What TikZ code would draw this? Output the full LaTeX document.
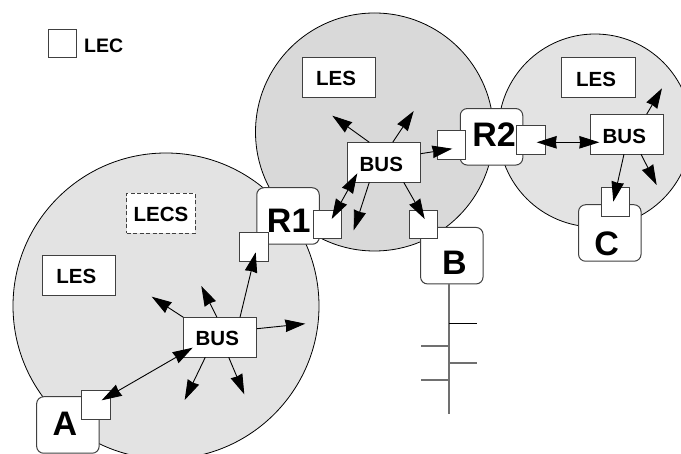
\documentclass[tikz,border=0pt]{standalone}
\usepackage{fontspec}
\setmainfont{Liberation Sans}
\usetikzlibrary{arrows.meta}
\definecolor{cellA}{HTML}{E3E3E3}
\definecolor{cellB}{HTML}{D9D9D9}
\definecolor{edge}{HTML}{404040}
\definecolor{lan}{HTML}{707070}
\tikzset{
  cellring/.style={draw=black,line width=0.8pt,circle,minimum size=#1,inner sep=0pt},
  plainbox/.style={draw=edge,line width=1pt,fill=white,inner sep=0pt,minimum width=73.5pt,minimum height=40pt},
  lecbox/.style={draw=edge,line width=1pt,fill=white,inner sep=0pt,minimum width=28.5pt,minimum height=28.5pt},
  hostbox/.style={draw=edge,line width=1pt,fill=white,rounded corners=7pt,inner sep=0pt,minimum width=62.5pt,minimum height=56.5pt},
  smalltxt/.style={font=\fontsize{20.5}{20.5}\selectfont\bfseries,inner sep=0pt,text=black},
  bigtxt/.style={font=\fontsize{34}{34}\selectfont\bfseries,inner sep=0pt,text=black},
  arr/.style={line width=0.9pt,black,-{Stealth[length=20pt,width=12.5pt,inset=0.8pt]}},
  darr/.style={line width=0.9pt,black,{Stealth[length=20pt,width=12.5pt,inset=0.8pt]}-{Stealth[length=20pt,width=12.5pt,inset=0.8pt]}},
  wire/.style={line width=1.6pt,lan}
}
\begin{document}
\begin{tikzpicture}[x=1pt,y=-1pt]
\clip (0,0) rectangle (681,454);
\fill[white] (0,0) rectangle (681,454);
% cells
\node[cellring=306pt,fill=cellA] (cellL) at (166,306) {};
\node[cellring=238pt,fill=cellB] (cellM) at (374.5,132) {};
\node[cellring=193pt,fill=cellA] (cellR) at (595,130.5) {};
% legend
\node[lecbox] (legend) at (62.5,43.5) {};
\node[smalltxt,font=\fontsize{19.5}{19.5}\selectfont\bfseries,anchor=west] (legendtext) at (84,45.5) {LEC};
% servers
\node[plainbox,dash pattern=on 4pt off 2.5pt,minimum width=68.5pt,label={[smalltxt,shift={(0.2,1)}]center:LECS}] (lecs) at (160.8,213.3) {};
\node[plainbox,label={[smalltxt,shift={(-2.7,1.4)}]center:LES}] (lesL) at (79,275.3) {};
\node[plainbox,label={[smalltxt,shift={(-2.8,0.8)}]center:LES}] (lesM) at (338.8,77.7) {};
\node[plainbox,label={[smalltxt,shift={(-2.5,1.3)}]center:LES}] (lesR) at (598.5,77.7) {};
% hosts and routers
\node[hostbox,label={[bigtxt,shift={(-2.9,-1)}]center:A}] (A) at (67.9,425) {};
\node[hostbox,label={[bigtxt,shift={(0.7,4.7)}]center:R1}] (R1) at (288,216) {};
\node[hostbox,label={[bigtxt,shift={(2.5,7.6)}]center:B}] (B) at (451.8,255.7) {};
\node[hostbox,label={[bigtxt,shift={(2.5,-1.8)}]center:R2}] (R2) at (491.5,136.8) {};
\node[hostbox,label={[bigtxt,shift={(-3.1,11)}]center:C}] (C) at (609.8,233) {};
% bus boxes
\node[plainbox,label={[smalltxt,shift={(-2.9,1.4)}]center:BUS}] (busL) at (220.2,337.3) {};
\node[plainbox,label={[smalltxt,shift={(-2.5,1.7)}]center:BUS}] (busM) at (383.8,162.3) {};
\node[plainbox,label={[smalltxt,shift={(-2.5,1.8)}]center:BUS}] (busR) at (626.8,134.2) {};
% LEC squares
\node[lecbox] (lecA) at (96,405.2) {};
\node[lecbox] (lecR1a) at (254,247) {};
\node[lecbox] (lecR1b) at (327.3,224.5) {};
\node[lecbox] (lecB) at (423.5,224.5) {};
\node[lecbox] (lecR2a) at (451.7,145.2) {};
\node[lecbox] (lecR2b) at (531,139.8) {};
\node[lecbox] (lecC) at (615.5,201.8) {};
% free arrow ends
\coordinate (tL1) at (151.7,296.7);
\coordinate (tL2) at (201.3,286);
\coordinate (tL3) at (305.3,323.7);
\coordinate (tL4) at (244.3,394.3);
\coordinate (tL5) at (184.7,400);
\coordinate (tM1) at (332.3,115.7);
\coordinate (tM2) at (413.7,111);
\coordinate (tM3) at (353.7,230.3);
\coordinate (tR1) at (662,88.3);
\coordinate (tR2) at (656.7,185);
% left BUS arrows
\draw[arr] ([shift={(-36.9,-20)}]busL.center) -- (tL1);
\draw[arr] ([shift={(-3.2,-20)}]busL.center) -- (tL2);
\draw[arr] ([shift={(19.8,-20)}]busL.center) -- ([shift={(1.7,5.3)}]lecR1a.center);
\draw[arr] ([shift={(36.8,-8.6)}]busL.center) -- (tL3);
\draw[arr] ([shift={(8.5,20)}]busL.center) -- (tL4);
\draw[arr] ([shift={(-14.9,20)}]busL.center) -- (tL5);
\draw[darr] ([shift={(5.7,-4.9)}]lecA.center) -- ([shift={(-27.5,10.4)}]busL.center);
% middle BUS arrows
\draw[arr] ([shift={(-14.5,-20)}]busM.center) -- (tM1);
\draw[arr] ([shift={(8.9,-20)}]busM.center) -- (tM2);
\draw[arr] ([shift={(36.9,-8.6)}]busM.center) -- ([shift={(0.6,3.5)}]lecR2a.center);
\draw[arr] ([shift={(19.9,20)}]busM.center) -- ([shift={(1.2,-5.5)}]lecB.center);
\draw[arr] ([shift={(-14.5,20)}]busM.center) -- (tM3);
\draw[darr] ([shift={(-26.5,11)}]busM.center) -- ([shift={(4.4,-5.5)}]lecR1b.center);
% right BUS arrows
\draw[arr] ([shift={(19.9,-20)}]busR.center) -- (tR1);
\draw[arr] ([shift={(14.2,20)}]busR.center) -- (tR2);
\draw[arr] ([shift={(-2.8,20)}]busR.center) -- ([shift={(-2.2,-0.1)}]lecC.center);
\draw[darr] ([shift={(5.7,2.5)}]lecR2b.center) -- ([shift={(-27.5,8.1)}]busR.center);
% LAN
\coordinate (lanEnd) at (449,413.7);
\coordinate (s1a) at (449,323.3); \coordinate (s1b) at (477.3,323.3);
\coordinate (s2a) at (449,346); \coordinate (s2b) at (420.7,346);
\coordinate (s3a) at (449,363); \coordinate (s3b) at (477.3,363);
\coordinate (s4a) at (449,380); \coordinate (s4b) at (420.7,380);
\draw[wire] (B.south -| lanEnd) -- (lanEnd);
\draw[line width=0.8pt,black] (s1a) -- (s1b);
\draw[wire] (s2a) -- (s2b);
\draw[wire] (s3a) -- (s3b);
\draw[wire] (s4a) -- (s4b);
\end{tikzpicture}
\end{document}
